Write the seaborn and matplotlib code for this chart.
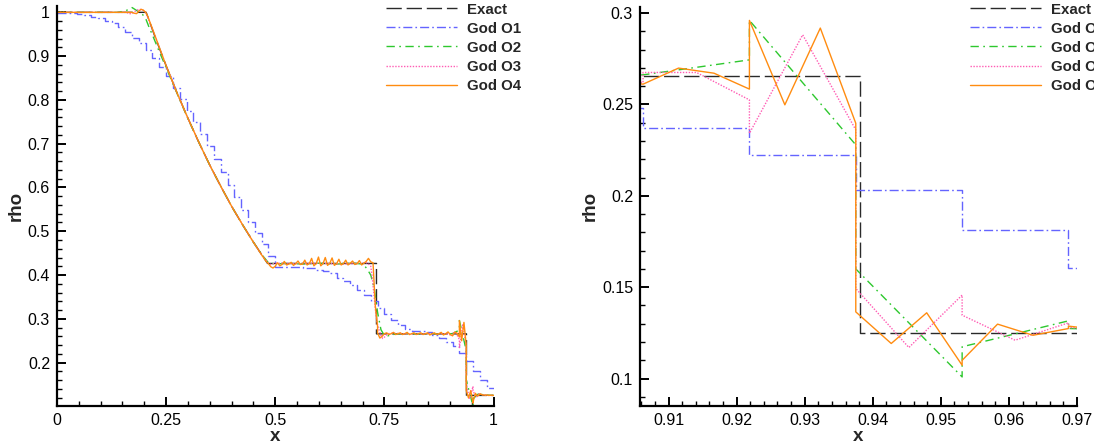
import numpy as np
import pandas as pd
import matplotlib
matplotlib.use("Agg")
import matplotlib.pyplot as plt
import seaborn as sns
from matplotlib.ticker import FixedLocator, MultipleLocator, FuncFormatter

sns.set_theme(style="white")
plt.rcParams['font.family'] = ['Liberation Sans', 'DejaVu Sans']

# ---------------- data ----------------
series_names = ["Exact", "God O1", "God O2", "God O3", "God O4"]

exact_x = [0.0, 0.2043, 0.225, 0.25, 0.275, 0.30, 0.325, 0.35, 0.375, 0.40,
           0.425, 0.45, 0.4824, 0.7319, 0.7319, 0.9381, 0.9381, 1.0]
exact_rho = [1.0, 1.0, 0.943, 0.878, 0.816, 0.758, 0.703, 0.651, 0.603, 0.557,
             0.515, 0.475, 0.4264, 0.4264, 0.2656, 0.2656, 0.125, 0.125]

# first order: one value per cell (64 cells)
n_cells = 64
o1_cells = [0.999, 0.999, 0.998, 0.997, 0.994, 0.990, 0.986, 0.981,
            0.975, 0.966, 0.955, 0.942, 0.929, 0.913, 0.895, 0.876,
            0.854, 0.827, 0.801, 0.775, 0.749, 0.722, 0.694, 0.665,
            0.636, 0.606, 0.578, 0.549, 0.521, 0.496, 0.471, 0.444,
            0.418, 0.418, 0.419, 0.418, 0.417, 0.415, 0.412, 0.409,
            0.404, 0.394, 0.386, 0.378, 0.366, 0.354, 0.340, 0.324,
            0.310, 0.297, 0.285, 0.277, 0.273, 0.271, 0.269, 0.264,
            0.257, 0.248, 0.237, 0.2224, 0.2032, 0.1813, 0.1603, 0.143]

o2_x = [0.0, 0.14, 0.1563, 0.1719, 0.1875, 0.1953, 0.2031, 0.2109, 0.2188,
        0.2344, 0.25, 0.275, 0.30, 0.325, 0.35, 0.375, 0.40, 0.425, 0.45,
        0.4688, 0.4844, 0.50, 0.53, 0.56, 0.60, 0.64, 0.68, 0.70, 0.7031,
        0.7109, 0.7188, 0.7266, 0.7344, 0.7422, 0.75, 0.7578, 0.7656, 0.78,
        0.82, 0.86, 0.89, 0.90625, 0.921875, 0.921875, 0.9375, 0.9375,
        0.953125, 0.953125, 0.96875, 0.96875, 0.984375, 1.0]
o2_rho = [1.0, 1.0, 1.003, 1.011, 1.001, 0.996, 0.986, 0.966, 0.948,
          0.910, 0.874, 0.815, 0.757, 0.703, 0.651, 0.603, 0.557, 0.515, 0.475,
          0.447, 0.428, 0.425, 0.427, 0.425, 0.427, 0.425, 0.427, 0.425, 0.423,
          0.413, 0.400, 0.370, 0.315, 0.275, 0.262, 0.261, 0.263, 0.266,
          0.265, 0.266, 0.265, 0.2662, 0.2744, 0.296, 0.2279, 0.160,
          0.1009, 0.1174, 0.1316, 0.1274, 0.126, 0.125]

o3_x = [0.0, 0.16, 0.1641, 0.1719, 0.1797, 0.1875, 0.1953, 0.2031, 0.2109,
        0.2188, 0.25, 0.275, 0.30, 0.325, 0.35, 0.375, 0.40, 0.425, 0.45,
        0.4688, 0.4844, 0.49, 0.50, 0.55, 0.60, 0.65, 0.70, 0.7109, 0.7188,
        0.7227, 0.7266, 0.7305, 0.7344, 0.7422, 0.7461, 0.75, 0.7578, 0.77,
        0.81, 0.85, 0.89, 0.90625, 0.90625, 0.9141, 0.921875, 0.921875,
        0.9297, 0.9375, 0.9375, 0.9453, 0.953125, 0.953125, 0.9609, 0.96875,
        0.96875, 0.9766, 0.984375, 1.0]
o3_rho = [1.0, 1.0, 0.997, 0.997, 1.003, 1.007, 1.006, 1.0, 0.981,
          0.962, 0.878, 0.816, 0.758, 0.703, 0.651, 0.603, 0.557, 0.515, 0.475,
          0.446, 0.427, 0.424, 0.427, 0.426, 0.427, 0.425, 0.427, 0.428, 0.420,
          0.390, 0.350, 0.310, 0.285, 0.262, 0.255, 0.258, 0.266, 0.267,
          0.265, 0.266, 0.266, 0.262, 0.2675, 0.2675, 0.2525, 0.2342,
          0.2881, 0.2361, 0.1493, 0.117, 0.1457, 0.1347, 0.121, 0.1305,
          0.128, 0.126, 0.125, 0.125]

o4_x = [0.0, 0.1719, 0.1771, 0.1823, 0.1875, 0.1927, 0.1979, 0.2031, 0.2083,
        0.2135, 0.2188, 0.25, 0.275, 0.30, 0.325, 0.35, 0.375, 0.40, 0.425,
        0.45, 0.4688, 0.4792,
        0.4844, 0.4896, 0.4948, 0.5000, 0.5052, 0.5104, 0.5156, 0.5208, 0.5260,
        0.5313, 0.5365, 0.5417, 0.5469, 0.5521, 0.5573, 0.5625, 0.5677, 0.5729,
        0.5781, 0.5833, 0.5885, 0.5938, 0.5990, 0.6042, 0.6094, 0.6146, 0.6198,
        0.6250, 0.6302, 0.6354, 0.6406, 0.6458, 0.6510, 0.6563, 0.6615, 0.6667,
        0.6719, 0.6771, 0.6823, 0.6875, 0.6927, 0.6979, 0.7031, 0.7083, 0.7135,
        0.7188, 0.7240, 0.7292, 0.7344,
        0.7344, 0.7396, 0.7448, 0.75,
        0.7552, 0.7604, 0.7656, 0.7708, 0.7760, 0.7813, 0.7865, 0.7917, 0.7969,
        0.8021, 0.8073, 0.8125, 0.8177, 0.8229, 0.8281, 0.8333, 0.8385, 0.8438,
        0.8490, 0.8542, 0.8594, 0.8646, 0.8698, 0.8750, 0.8802, 0.8854, 0.8906,
        0.8958, 0.9010, 0.90625,
        0.91146, 0.91667, 0.921875, 0.921875, 0.92708, 0.93229, 0.9375, 0.9375,
        0.94271, 0.94792, 0.953125, 0.953125, 0.95833, 0.96354, 0.96875,
        0.96875, 0.97396, 0.97917, 0.984375, 0.98958, 0.99479, 1.0]
o4_rho = [1.0, 1.0, 0.998, 0.997, 1.003, 1.007, 1.005, 1.0, 0.990,
          0.976, 0.962, 0.878, 0.816, 0.758, 0.703, 0.651, 0.603, 0.557, 0.515,
          0.475, 0.446, 0.431,
          0.426, 0.419, 0.416, 0.420, 0.428, 0.421, 0.424, 0.431, 0.423,
          0.425, 0.429, 0.422, 0.426, 0.432, 0.424, 0.425, 0.434, 0.423,
          0.426, 0.438, 0.421, 0.426, 0.441, 0.421, 0.426, 0.440, 0.422,
          0.427, 0.439, 0.422, 0.426, 0.436, 0.423, 0.426, 0.434, 0.423,
          0.427, 0.432, 0.424, 0.426, 0.433, 0.423, 0.427, 0.431, 0.438,
          0.430, 0.428, 0.330, 0.283,
          0.268, 0.256, 0.260, 0.266,
          0.268, 0.264, 0.266, 0.269, 0.264, 0.266, 0.268, 0.264, 0.266,
          0.269, 0.264, 0.266, 0.268, 0.264, 0.266, 0.268, 0.264, 0.266,
          0.268, 0.263, 0.266, 0.268, 0.264, 0.266, 0.269, 0.263, 0.266,
          0.270, 0.264, 0.2611,
          0.2699, 0.2671, 0.2584, 0.296, 0.2498, 0.2918, 0.2397, 0.1365,
          0.1192, 0.136, 0.1073, 0.110, 0.1298, 0.1237, 0.1274,
          0.1287, 0.1265, 0.1255, 0.126, 0.125, 0.1255, 0.125]

colors = {"Exact": "#2a2a2a", "God O1": "#6464ff", "God O2": "#2ec82e",
          "God O3": "#ff5cb4", "God O4": "#ff8c10"}
styles = {"Exact": (0, (11, 3.5)), "God O1": (0, (6.5, 2.2, 1.2, 2.2)),
          "God O2": (0, (6, 3.2, 1.2, 3.2)), "God O3": (0, (1, 1.1)),
          "God O4": "-"}

edges = np.linspace(0.0, 1.0, n_cells + 1)
o1_x = list(edges)
o1_rho = o1_cells + [o1_cells[-1]]

frames = {
    "Exact": pd.DataFrame({"x": exact_x, "rho": exact_rho}),
    "God O1": pd.DataFrame({"x": o1_x, "rho": o1_rho}),
    "God O2": pd.DataFrame({"x": o2_x, "rho": o2_rho}),
    "God O3": pd.DataFrame({"x": o3_x, "rho": o3_rho}),
    "God O4": pd.DataFrame({"x": o4_x, "rho": o4_rho}),
}

# ---------------- figure ----------------
W, H = 1094, 445
fig = plt.figure(figsize=(W / 100, H / 100), dpi=100)

def px_axes(x0, x1, ytop, ybot):
    return fig.add_axes([x0 / W, 1 - ybot / H, (x1 - x0) / W, (ybot - ytop) / H])

axL = px_axes(57, 493.5, 6, 406)
axR = px_axes(640, 1077, 6.5, 406)

fmt = FuncFormatter(lambda v, p: f"{v:g}")

for ax in (axL, axR):
    for name in series_names:
        kw = {}
        if name == "God O1":
            kw["drawstyle"] = "steps-post"
        sns.lineplot(data=frames[name], x="x", y="rho", ax=ax, estimator=None,
                     sort=False, color=colors[name], linestyle=styles[name],
                     linewidth=1.0, label=name, legend=False, **kw)
    ax.set_facecolor("white")
    for s in ("top", "right"):
        ax.spines[s].set_visible(False)
    for s in ("left", "bottom"):
        ax.spines[s].set_visible(True)
        ax.spines[s].set_color("black")
        ax.spines[s].set_linewidth(1.6)
    ax.tick_params(which="major", direction="in", length=6.5, width=1.4,
                   colors="black", labelsize=11.5, pad=5, left=True, bottom=True)
    ax.tick_params(which="minor", direction="in", length=3.3, width=1.0,
                   colors="black", left=True, bottom=True)
    ax.xaxis.set_major_formatter(fmt)
    ax.yaxis.set_major_formatter(fmt)
    ax.set_xlabel("x", fontsize=13.5, fontweight="bold", labelpad=0)
    ax.set_ylabel("rho", fontsize=13.5, fontweight="bold", labelpad=2)
    ax.grid(False)

axL.set_xlim(0.0, 1.0)
axL.set_ylim(0.1008, 1.0145)
axL.xaxis.set_major_locator(FixedLocator([0, 0.25, 0.5, 0.75, 1.0]))
axL.xaxis.set_minor_locator(MultipleLocator(0.05))
axL.yaxis.set_major_locator(FixedLocator([0.2, 0.3, 0.4, 0.5, 0.6, 0.7, 0.8, 0.9, 1.0]))
axL.yaxis.set_minor_locator(MultipleLocator(0.02))

axR.set_xlim(0.9058, 0.97)
axR.set_ylim(0.085, 0.3036)
axR.xaxis.set_major_locator(FixedLocator([0.91, 0.92, 0.93, 0.94, 0.95, 0.96, 0.97]))
axR.xaxis.set_minor_locator(MultipleLocator(0.002))
axR.yaxis.set_major_locator(FixedLocator([0.1, 0.15, 0.2, 0.25, 0.3]))
axR.yaxis.set_minor_locator(MultipleLocator(0.01))

leg_kw = dict(loc="upper left", bbox_transform=fig.transFigure, frameon=False,
              borderpad=0, borderaxespad=0, handlelength=4.7, handletextpad=0.7,
              labelspacing=0.34, prop={"weight": "bold", "size": 10.8})
axL.legend(bbox_to_anchor=(386 / W, 1 - 2.5 / H), **leg_kw)
axR.legend(bbox_to_anchor=(970 / W, 1 - 2.5 / H), **leg_kw)

fig.savefig("out.png", dpi=100)
